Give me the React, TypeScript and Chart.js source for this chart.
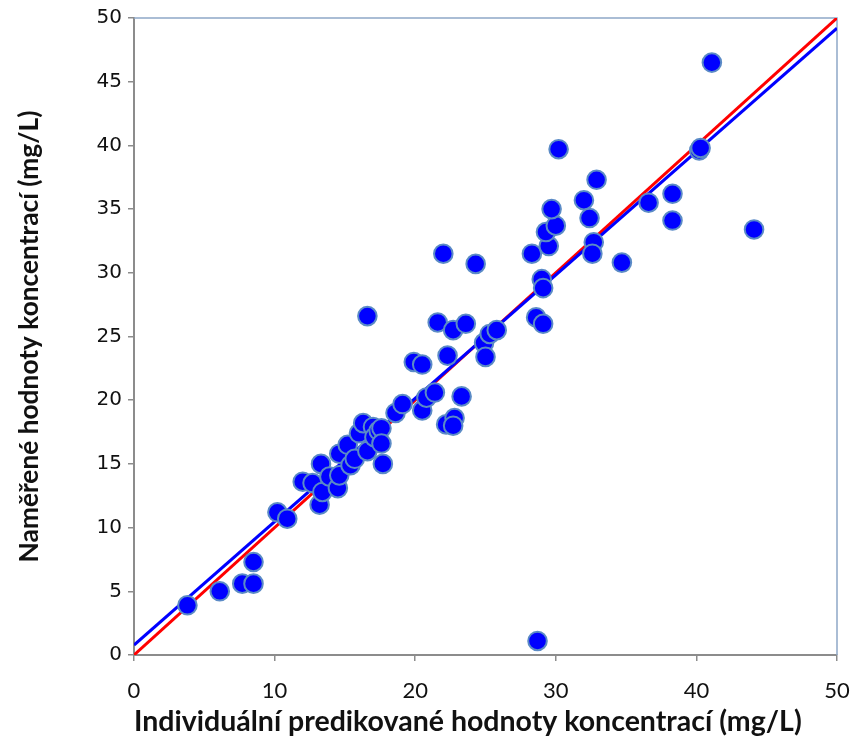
import React, { useEffect, useRef } from 'react';
import { Chart, registerables } from 'chart.js';

Chart.register(...registerables);

// Individual predicted concentrations (x) and measured concentrations (y), mg/L
const predicted = [
  3.8, 6.1, 7.7, 8.5, 8.5, 10.2, 10.9, 12.0, 12.7, 13.2, 13.4, 13.3, 13.9, 14.5, 14.6, 14.6,
  15.2, 15.4, 15.7, 16.0, 16.3, 16.6, 17.0, 17.1, 17.4, 17.6, 17.6, 17.7, 18.6, 19.1, 19.9,
  20.5, 20.5, 20.8, 21.4, 22.2, 22.8, 22.7, 23.3, 22.3, 21.6, 22.7, 23.6, 16.6, 22.0, 24.3,
  24.9, 25.0, 25.3, 25.8, 28.3, 28.6, 29.1, 29.0, 29.1, 29.5, 29.3, 30.0, 29.7, 30.2, 32.0,
  32.4, 32.9, 32.7, 32.6, 34.7, 36.6, 38.3, 38.3, 40.2, 40.3, 41.1, 44.1, 28.7,
];
const measured = [
  3.9, 5.0, 5.6, 5.6, 7.3, 11.2, 10.7, 13.6, 13.5, 11.8, 12.8, 15.0, 14.0, 13.1, 14.1, 15.8,
  16.5, 14.9, 15.4, 17.4, 18.2, 16.0, 17.9, 17.1, 17.6, 17.8, 16.6, 15.0, 19.0, 19.7, 23.0,
  22.8, 19.2, 20.2, 20.6, 18.1, 18.6, 18.0, 20.3, 23.5, 26.1, 25.5, 26.0, 26.6, 31.5, 30.7,
  24.5, 23.4, 25.2, 25.5, 31.5, 26.5, 26.0, 29.5, 28.8, 32.1, 33.2, 33.7, 35.0, 39.7, 35.7,
  34.3, 37.3, 32.4, 31.5, 30.8, 35.5, 36.2, 34.1, 39.6, 39.8, 46.5, 33.4, 1.1,
];

// Identity line (red) and regression line (blue)
const lineX = [0, 50];
const identityY = [0, 50];
const regressionY = [0.78, 49.2];

const xTickStep = 10;
const yTickStep = 5;
const axisMin = 0;
const axisMax = 50;

const xTitle = 'Individuální predikované hodnoty koncentrací (mg/L)';
const yTitle = 'Naměřené hodnoty koncentrací (mg/L)';

const framePlugin = {
  id: 'frameLines',
  beforeDatasetsDraw(chart: any) {
    const { ctx, chartArea } = chart;
    const { left, top, right, bottom } = chartArea;
    ctx.save();
    ctx.strokeStyle = '#8fa8c8';
    ctx.lineWidth = 1.5;
    ctx.beginPath();
    ctx.moveTo(left, top);
    ctx.lineTo(right, top);
    ctx.lineTo(right, bottom);
    ctx.stroke();
    ctx.restore();
  },
};

export default function App() {
  const canvasRef = useRef<HTMLCanvasElement | null>(null);

  useEffect(() => {
    if (!canvasRef.current) return;
    const points = predicted.map((x, i) => ({ x, y: measured[i] }));
    const chart = new Chart(canvasRef.current, {
      type: 'scatter',
      data: {
        datasets: [
          {
            label: 'Data',
            data: points,
            backgroundColor: '#0000ff',
            borderColor: '#5b8bc6',
            borderWidth: 2,
            pointRadius: 9.3,
            pointHoverRadius: 9.3,
            order: 0,
          },
          {
            label: 'Regrese',
            data: lineX.map((x, i) => ({ x, y: regressionY[i] })),
            showLine: true,
            borderColor: '#0000ff',
            backgroundColor: '#0000ff',
            borderWidth: 3,
            pointRadius: 0,
            order: 1,
          },
          {
            label: 'y = x',
            data: lineX.map((x, i) => ({ x, y: identityY[i] })),
            showLine: true,
            borderColor: '#ff0000',
            backgroundColor: '#ff0000',
            borderWidth: 3,
            pointRadius: 0,
            order: 2,
          },
        ],
      },
      options: {
        responsive: false,
        animation: false,
        layout: { padding: { top: 17, right: 18, left: 0, bottom: 0 } },
        plugins: {
          legend: { display: false },
          tooltip: { enabled: false },
        },
        scales: {
          x: {
            type: 'linear',
            min: axisMin,
            max: axisMax,
            afterFit: (s: any) => {
              s.height = 94;
              s.paddingLeft = 0;
              s.paddingRight = 0;
            },
            ticks: {
              stepSize: xTickStep,
              color: '#111111',
              font: { family: 'Lato', size: 22 },
              padding: 17,
            },
            grid: {
              drawOnChartArea: false,
              drawTicks: true,
              tickLength: 6,
              color: '#8c8c8c',
              lineWidth: 1.5,
            },
            border: { display: true, color: '#8c8c8c', width: 2 },
            title: {
              display: true,
              text: xTitle,
              align: 'start',
              color: '#111111',
              font: { family: 'Lato', size: 28.5, weight: 'bold' },
              padding: { top: 0, bottom: 10 },
            },
          },
          y: {
            type: 'linear',
            min: axisMin,
            max: axisMax,
            afterFit: (s: any) => {
              s.width = 134;
            },
            ticks: {
              stepSize: yTickStep,
              color: '#111111',
              font: { family: 'DejaVu Sans', size: 20 },
              padding: 6,
            },
            grid: {
              drawOnChartArea: false,
              drawTicks: true,
              tickLength: 6,
              color: '#8c8c8c',
              lineWidth: 1.5,
            },
            border: { display: true, color: '#8c8c8c', width: 2 },
            title: {
              display: true,
              text: yTitle,
              color: '#111111',
              font: { family: 'Lato', size: 26.3, weight: 'bold' },
              padding: { top: 14, bottom: 0 },
            },
          },
        },
      },
      plugins: [framePlugin],
    });
    return () => chart.destroy();
  }, []);

  return (
    <div style={{ position: 'fixed', left: 0, top: 0, width: 855, height: 749, background: '#fff' }}>
      <canvas ref={canvasRef} width={855} height={749} style={{ display: 'block' }} />
    </div>
  );
}
